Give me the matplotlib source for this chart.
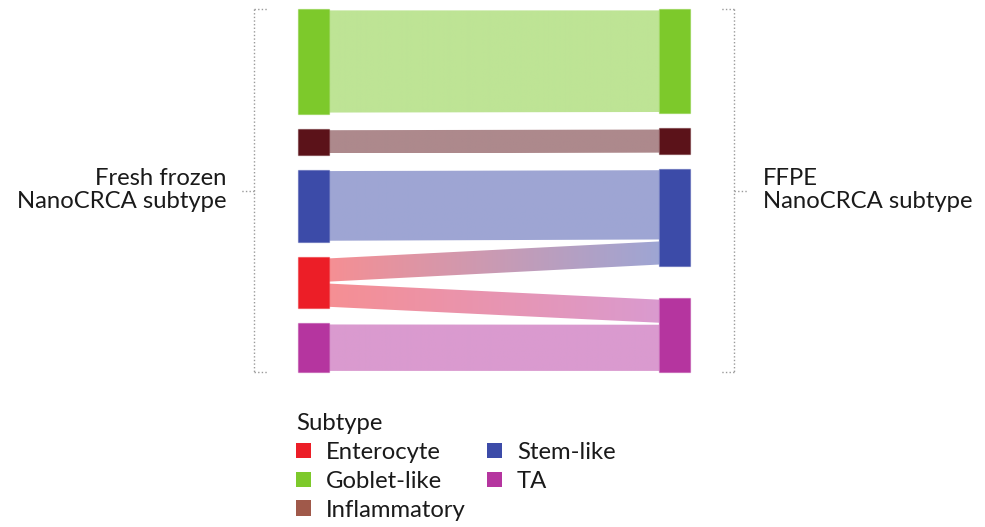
import numpy as np
import matplotlib
matplotlib.use("Agg")
import matplotlib.pyplot as plt
from matplotlib.patches import Polygon, Rectangle, Patch
from matplotlib.colors import to_rgb

plt.rcParams['font.family'] = ['Lato', 'DejaVu Sans']

# stacking order of the strata, top to bottom
subtypes = ["Goblet-like", "Inflammatory", "Stem-like", "Enterocyte", "TA"]
legend_order = ["Enterocyte", "Goblet-like", "Inflammatory", "Stem-like", "TA"]

stratum_colors = {
    "Enterocyte": "#EC1E27",
    "Goblet-like": "#7DC92B",
    "Inflammatory": "#5B1219",
    "Stem-like": "#3C4BA8",
    "TA": "#B5359F",
}
legend_colors = {
    "Enterocyte": "#EC1E27",
    "Goblet-like": "#7DC92B",
    "Inflammatory": "#A0594A",
    "Stem-like": "#3C4BA8",
    "TA": "#B5359F",
}

# sample counts per (fresh frozen -> FFPE) pair
flow_from = ["Goblet-like", "Inflammatory", "Stem-like", "Enterocyte", "Enterocyte", "TA"]
flow_to = ["Goblet-like", "Inflammatory", "Stem-like", "Stem-like", "TA", "TA"]
flow_n = [22, 5, 15, 5, 5, 10]

axis_titles = ["Fresh frozen\nNanoCRCA subtype", "FFPE\nNanoCRCA subtype"]

# layout parameters (y in sample units, x in axis units)
GAP = 3.2        # space between strata
PAD = 0.3        # stratum border around its flows
FGAP = 0.43      # space between flows sharing a stratum
WIDTH = 0.086    # stratum width
FLOW_ALPHA = 0.5
FONT_SIZE = 17.2
TEXT_COLOR = "#1a1a1a"


def layout(side):
    ends = flow_from if side == 0 else flow_to
    other = flow_to if side == 0 else flow_from
    y = 0.0
    strata, fpos = {}, {}
    for i, s in enumerate(subtypes):
        if i > 0:
            y += GAP
        top = y
        y += PAD
        idx = [k for k in range(len(flow_n)) if ends[k] == s]
        idx.sort(key=lambda k: subtypes.index(other[k]))
        for j, k in enumerate(idx):
            if j > 0:
                y += FGAP
            fpos[k] = (y, y + flow_n[k])
            y += flow_n[k]
        y += PAD
        strata[s] = (top, y, len(idx) > 0)
    return strata, fpos, y


left_strata, left_fpos, left_total = layout(0)
right_strata, right_fpos, right_total = layout(1)
# both axes span the same height
sc = left_total / right_total
right_strata = {s: (a * sc, b * sc, v) for s, (a, b, v) in right_strata.items()}
right_fpos = {k: (a * sc, b * sc) for k, (a, b) in right_fpos.items()}
total = left_total

W_PX, H_PX = 985, 527
fig = plt.figure(figsize=(W_PX / 100, H_PX / 100), dpi=100)
ax = fig.add_axes([0, 0, 1, 1])
ax.set_axis_off()

# pixel mapping of the panel
x_px_per_unit = 360.7
x1_px = 313.8
y_top_px = 9.0
y_px_per_unit = (372.3 - 9.0) / total
xlim = (1 - x1_px / x_px_per_unit, 1 + (W_PX - x1_px) / x_px_per_unit)
ylim = ((H_PX - y_top_px) / y_px_per_unit, -y_top_px / y_px_per_unit)

# flows, coloured by a gradient from source to target subtype
xl, xr = 1 + WIDTH / 2, 2 - WIDTH / 2
for k in range(len(flow_n)):
    lt, lb = left_fpos[k]
    rt, rb = right_fpos[k]
    poly = Polygon([(xl, lt), (xr, rt), (xr, rb), (xl, lb)], closed=True,
                   facecolor="none", edgecolor="none")
    ax.add_patch(poly)
    c0 = np.array(to_rgb(stratum_colors[flow_from[k]]))
    c1 = np.array(to_rgb(stratum_colors[flow_to[k]]))
    t = np.linspace(0, 1, 256)[:, None]
    rgb = c0 * (1 - t) + c1 * t
    img = np.concatenate([rgb, np.full((256, 1), FLOW_ALPHA)], axis=1)[None, :, :]
    im = ax.imshow(img, extent=[xl, xr, max(lb, rb), min(lt, rt)],
                   aspect="auto", interpolation="bilinear", zorder=1)
    im.set_clip_path(poly)

# strata
for xc, strata in ((1, left_strata), (2, right_strata)):
    for s, (top, bot, visible) in strata.items():
        if not visible:
            continue
        col = stratum_colors[s]
        ax.add_patch(Rectangle((xc - WIDTH / 2, top), WIDTH, bot - top,
                               facecolor=col, edgecolor=to_rgb(col) + (0.45,),
                               linewidth=0.9, zorder=2))

# dotted brackets beside each axis
BR_OFF = 0.166
TICK = 0.036
dot = dict(color="#9a9a9a", linewidth=1.0, linestyle=(0, (1, 1.6)), zorder=3)
for xc, sign in ((1, -1), (2, 1)):
    xb = xc + sign * BR_OFF
    ax.plot([xb, xb], [0, total], **dot)
    ax.plot([xb, xb - sign * TICK], [0, 0], **dot)
    ax.plot([xb, xb - sign * TICK], [total, total], **dot)
    ax.plot([xb, xb + sign * TICK], [total / 2, total / 2], **dot)

ax.text(1 - BR_OFF - 0.077, total / 2 - 0.15, axis_titles[0], ha="right", va="center",
        multialignment="right", fontsize=FONT_SIZE, linespacing=1.08, color=TEXT_COLOR)
ax.text(2 + BR_OFF + 0.08, total / 2 - 0.15, axis_titles[1], ha="left", va="center",
        multialignment="left", fontsize=FONT_SIZE, linespacing=1.08, color=TEXT_COLOR)

ax.set_xlim(*xlim)
ax.set_ylim(*ylim)

handles = [Patch(facecolor=legend_colors[s], edgecolor="none") for s in legend_order]
leg = fig.legend(handles, legend_order, ncol=2, loc="upper left",
                 bbox_to_anchor=(296 / W_PX, 1 - 413 / H_PX), frameon=False,
                 title="Subtype", alignment="left", fontsize=FONT_SIZE,
                 title_fontsize=FONT_SIZE, handlelength=0.63, handleheight=0.63,
                 handletextpad=0.62, columnspacing=0.9, labelspacing=0.33,
                 borderpad=0, borderaxespad=0)
for t in leg.get_texts():
    t.set_color(TEXT_COLOR)
leg.get_title().set_color(TEXT_COLOR)

fig.savefig("out.png", dpi=100)
